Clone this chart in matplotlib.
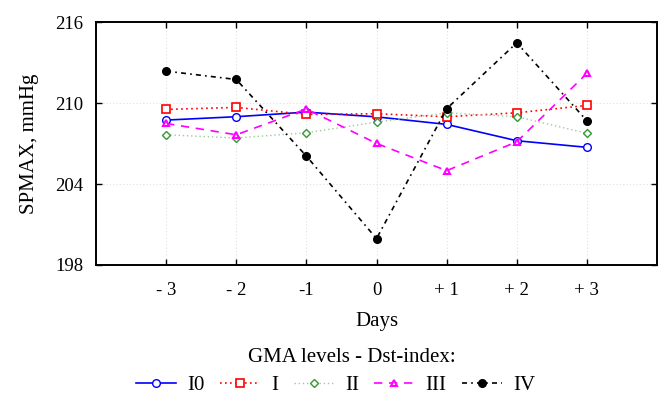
import matplotlib
matplotlib.use('Agg')
import matplotlib.pyplot as plt

plt.rcParams['font.family'] = ['Liberation Serif', 'DejaVu Serif']

days = [-3, -2, -1, 0, 1, 2, 3]
day_labels = ['- 3', '- 2', '-1', '0', '+ 1', '+ 2', '+ 3']

# SPMAX by GMA level
level_i0 = [208.74, 208.99, 209.33, 208.98, 208.42, 207.21, 206.72]
level_i = [209.53, 209.68, 209.16, 209.21, 208.99, 209.28, 209.83]
level_ii = [207.65, 207.41, 207.80, 208.59, 209.28, 208.99, 207.76]
level_iii = [208.49, 207.65, 209.56, 207.01, 204.99, 207.13, 212.20]
level_iv = [212.37, 211.75, 206.07, 199.95, 209.58, 214.47, 208.69]


def main():
    fig = plt.figure(figsize=(6.62, 3.96), dpi=100)
    ax = fig.add_axes([0.145, 0.331, 0.8475, 0.613])

    ax.plot(days, level_i0, color='#0000ff', lw=1.2, ls='-', marker='o',
            ms=5.5, mfc='white', mec='#0000ff', label='I0')
    ax.plot(days, level_i, color='#ff0000', lw=1.2, ls=(0, (1, 2)), marker='s',
            ms=5.5, mfc='white', mec='#ff0000', mew=1.2, label='I')
    ax.plot(days, level_ii, color='#99cc99', lw=1.0, ls=(0, (1, 2)), marker='D',
            ms=3.8, mfc='white', mec='#339933', label='II')
    ax.plot(days, level_iii, color='#ff00ff', lw=1.2, ls=(0, (5, 4)), marker='^',
            ms=5, mfc='white', mec='#ff00ff', mew=1.5, label='III')
    ax.plot(days, level_iv, color='black', lw=1.2, ls=(0, (3, 2.5, 1, 2.5)),
            marker='o', ms=5.5, mfc='black', mec='black', label='IV')

    ax.set_xlim(-4, 4)
    ax.set_ylim(198, 216)
    ax.set_xticks(days)
    ax.set_xticklabels(day_labels)
    ax.set_yticks([198, 204, 210, 216])
    ax.grid(True, color='#e0e0e0', ls=(0, (1, 2)), lw=0.8)
    ax.tick_params(direction='in', length=4, width=1, labelsize=13.5,
                   top=True, right=True)
    ax.tick_params(axis='x', pad=12)
    ax.tick_params(axis='y', pad=9)
    for s in ax.spines.values():
        s.set_linewidth(1.4)

    ax.set_xlabel('Days', fontsize=15, labelpad=10)
    ax.set_ylabel('SPMAX, mmHg', fontsize=15, labelpad=12)

    fig.text(0.532, 0.096, 'GMA levels - Dst-index:', ha='center',
             va='center', fontsize=15)
    fig.legend(loc='center', bbox_to_anchor=(0.507, 0.027),
               ncol=5, frameon=False, fontsize=15, handlelength=1.9,
               columnspacing=0.75, handletextpad=0.55, borderaxespad=0,
               borderpad=0)

    fig.savefig('out.png', dpi=100)


if __name__ == '__main__':
    main()
